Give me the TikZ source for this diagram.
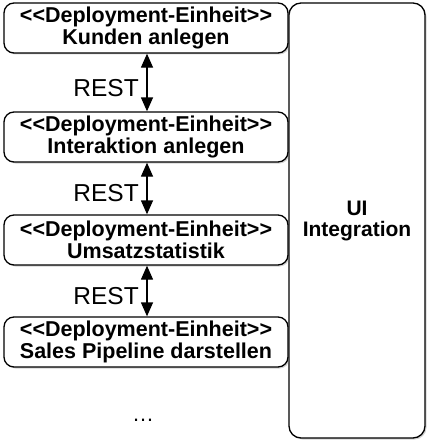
\documentclass[tikz,border=0pt]{standalone}
\usepackage{fontspec}
\setmainfont{Liberation Sans}
\usetikzlibrary{shadows,arrows.meta}
\begin{document}
\begin{tikzpicture}[x=1pt,y=-1pt,
  unit/.style={draw=black, line width=1.3pt, fill=white, rounded corners=10pt,
    minimum width=284pt, minimum height=50pt, inner sep=0pt, align=center,
    font=\fontsize{21.5}{22}\selectfont\bfseries,
    drop shadow={shadow xshift=1.5pt, shadow yshift=-1.5pt, opacity=0.35}},
  rest/.style={line width=1.3pt, {Triangle[length=14pt,width=12pt]}-{Triangle[length=14pt,width=12pt]}},
  restlbl/.style={font=\fontsize{24.5}{25}\selectfont, anchor=east, inner sep=0pt}]
\useasboundingbox (0,0) rectangle (428,444);
\node[unit, minimum width=136pt, minimum height=435pt, rounded corners=12pt, font=\fontsize{21}{22}\selectfont\bfseries] (ui) at (357,220.5) {UI\\[-1pt]Integration};
\node[unit] (a) at (146,28) {<{}<Deployment-Einheit>{}>\\Kunden anlegen};
\node[unit] (b) at (146,137) {<{}<Deployment-Einheit>{}>\\Interaktion anlegen};
\node[unit] (c) at (146,240) {<{}<Deployment-Einheit>{}>\\Umsatzstatistik};
\node[unit] (d) at (146,342) {<{}<Deployment-Einheit>{}>\\Sales Pipeline darstellen};
\draw[rest] ([xshift=1pt]a.south) -- ([xshift=1pt]b.north) coordinate[midway] (m1);
\draw[rest] ([xshift=1pt]b.south) -- ([xshift=1pt]c.north) coordinate[midway] (m2);
\draw[rest] ([xshift=1pt]c.south) -- ([xshift=1pt]d.north) coordinate[midway] (m3);
\node[restlbl] (l1) at ([xshift=-8pt,yshift=-6pt]m1) {REST};
\node[restlbl] (l2) at ([xshift=-8pt,yshift=-5pt]m2) {REST};
\node[restlbl] (l3) at ([xshift=-8pt,yshift=-5pt]m3) {REST};
\node[font=\fontsize{22}{24}\selectfont, inner sep=0pt] (dots) at (143,420) {\dots};
\end{tikzpicture}
\end{document}
